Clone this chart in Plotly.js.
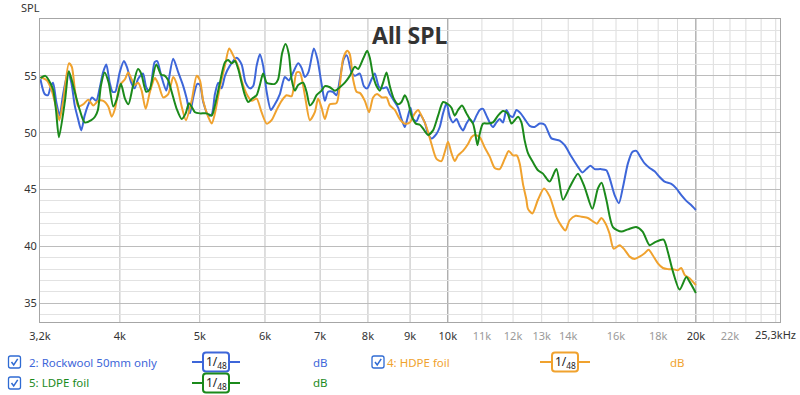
<!DOCTYPE html>
<html><head><meta charset="utf-8">
<script src="https://cdn.plot.ly/plotly-3.0.1.min.js"></script>
<style>html,body{margin:0;padding:0;background:#fff}#chart{width:800px;height:395px}</style>
</head><body><div id="chart"></div>
<script>
// ---------- data ----------
const seriesNames = ['2: Rockwool 50mm only', '4: HDPE foil', '5: LDPE foil'];
const seriesColors = ['#3d66d9', '#f0a22e', '#1b8a1b'];
const smoothingLabel = '1/<sub>48</sub>';
const unitLabel = 'dB';

const rockwoolFreq = [3204,3242,3272,3298,3319,3349,3381,3412,3460,3493,3526,3559,3591,3625,3659,3701,3744,3780,3816,3851,3888,3918,3949,3998,4046,4083,4129,4168,4207,4267,4305,4347,4408,4440,4490,4553,4579,4643,4709,4775,4821,4865,4910,4966,5003,5049,5120,5170,5217,5265,5315,5365,5440,5543,5621,5684,5753,5806,5862,5915,5969,6028,6100,6168,6255,6343,6414,6491,6583,6646,6707,6773,6878,6945,7028,7093,7158,7252,7328,7396,7479,7542,7642,7712,7821,7909,7982,8081,8155,8253,8339,8426,8504,8624,8703,8787,8868,8950,9010,9075,9163,9247,9377,9463,9555,9689,9778,9868,9964,10055,10148,10245,10339,10434,10535,10632,10730,10834,10933,11034,11140,11243,11346,11456,11561,11667,11780,11889,11998,12114,12259,12397,12571,12748,12927,13109,13357,13670,13862,14124,14386,14565,14728,14894,15073,15328,15574,15718,15939,16130,16312,16541,16747,16936,17115,17332,17575,17822,18073,18327,18674,18936,19203,19473,19691,20000];
const rockwoolSPL = [54.7,53.4,53.3,54.1,54.4,52.7,51.5,53.3,55.3,54.4,52.4,51.2,50.2,51.5,52.4,53.1,52.8,53.9,55.3,56.0,54.4,53.6,53.6,55.3,56.3,55.7,54.4,53.9,54.7,55.2,54.0,53.6,56.2,56.3,55.0,53.7,54.4,56.5,55.3,54.1,53.0,51.7,53.1,54.3,54.2,52.7,51.5,51.6,53.4,54.4,53.9,55.0,55.9,56.6,56.0,54.4,53.9,54.1,55.9,56.9,55.9,53.6,52.0,52.5,53.4,54.9,54.6,55.3,56.1,55.7,54.9,55.3,57.4,56.5,54.3,52.8,53.6,53.6,53.3,54.7,56.5,56.8,55.3,55.0,55.2,54.1,53.9,54.7,55.2,54.0,53.9,54.0,53.4,52.7,52.2,51.2,50.5,51.5,52.2,51.2,51.0,51.6,50.9,49.9,49.5,49.9,50.5,51.7,52.6,51.4,50.9,51.2,50.6,50.2,50.8,51.2,50.9,51.5,52.0,52.1,51.5,50.9,50.5,50.9,51.2,50.9,52.0,51.5,51.4,52.0,51.7,51.2,50.6,50.5,50.8,50.7,49.5,49.3,48.9,47.9,47.0,46.5,46.8,47.1,46.8,46.8,46.7,46.0,44.5,43.8,45.2,47.3,48.3,48.4,47.9,47.3,46.9,46.6,46.1,45.7,45.5,45.1,44.5,44.0,43.7,43.2];

const hdpeFreq = [3204,3261,3307,3353,3377,3415,3469,3497,3529,3561,3611,3662,3714,3765,3819,3872,3910,3946,4001,4057,4094,4134,4172,4210,4251,4299,4351,4412,4453,4515,4579,4643,4688,4754,4811,4888,4958,5003,5049,5120,5170,5217,5290,5365,5429,5490,5568,5621,5700,5781,5862,5943,6028,6112,6198,6285,6373,6463,6554,6614,6707,6802,6897,6960,7028,7093,7192,7328,7396,7464,7548,7605,7675,7749,7821,7931,8026,8116,8207,8316,8426,8504,8624,8745,8868,8992,9119,9203,9291,9422,9555,9689,9825,9916,10007,10103,10196,10290,10434,10581,10683,10782,10933,11087,11243,11401,11561,11724,11855,11998,12124,12225,12337,12457,12511,12667,12865,13082,13293,13545,13736,13890,14057,14295,14536,14793,15001,15169,15358,15543,15718,15894,16163,16390,16621,16855,17091,17332,17526,17737,17986,18239,18496,18756,19019,19203,19380,19652,20000];
const hdpeSPL = [54.9,54.6,53.7,52.0,51.1,52.8,56.1,55.8,53.7,52.3,52.5,52.9,52.4,52.8,52.8,52.3,51.4,52.1,54.2,54.7,55.3,54.7,54.2,54.4,53.7,52.1,53.6,54.8,54.3,53.1,53.4,54.9,54.3,52.3,51.1,52.8,55.0,54.6,52.8,51.4,50.8,51.7,54.0,55.9,57.4,56.8,55.8,54.6,53.4,52.8,53.0,51.8,50.8,51.1,52.0,52.8,53.3,53.2,55.3,55.3,53.3,51.1,51.8,53.0,52.2,51.2,52.5,52.6,54.2,56.5,57.2,56.9,54.7,53.6,53.5,52.8,51.8,53.1,53.4,53.1,53.1,52.4,52.0,51.2,50.8,50.9,51.7,52.0,51.5,50.5,49.0,47.7,47.5,48.3,49.2,48.2,47.5,48.0,48.4,49.0,49.6,49.8,49.6,48.7,47.9,46.9,46.8,47.7,48.4,48.0,48.0,47.3,45.5,44.1,43.3,42.9,44.1,45.1,44.4,42.6,41.8,41.4,42.3,42.7,42.6,42.5,42.2,42.0,42.5,42.0,41.1,39.8,40.1,39.7,39.1,38.9,39.1,39.4,39.7,39.2,38.5,38.1,38.0,38.0,37.9,38.1,37.5,37.2,36.6];

const ldpeFreq = [3204,3248,3281,3319,3346,3374,3431,3469,3526,3576,3625,3693,3731,3762,3795,3834,3877,3927,3968,4012,4057,4097,4149,4207,4246,4305,4347,4428,4490,4537,4579,4623,4688,4754,4808,4852,4896,4934,5003,5097,5170,5217,5290,5365,5414,5466,5517,5568,5621,5673,5725,5790,5862,5915,5969,6028,6083,6168,6225,6295,6356,6414,6463,6523,6583,6675,6739,6802,6865,6930,7028,7093,7192,7293,7396,7500,7605,7712,7783,7893,7982,8042,8116,8194,8270,8346,8426,8504,8599,8703,8787,8868,8950,9035,9145,9247,9325,9463,9596,9732,9868,10007,10103,10196,10290,10405,10535,10632,10730,10782,10864,10933,11034,11189,11346,11506,11667,11813,11946,12056,12167,12284,12397,12511,12687,12865,13046,13293,13545,13796,14057,14386,14658,14977,15212,15371,15574,15863,16241,16541,16926,17235,17575,17872,18275,18496,18756,19111,19473,19652,20000];
const ldpeSPL = [54.8,55.0,54.6,53.8,52.0,49.6,52.8,55.4,53.6,52.0,50.9,51.1,51.4,52.0,54.2,55.3,54.4,52.3,53.0,54.3,53.0,52.5,54.1,55.6,55.2,53.6,53.8,56.0,55.1,55.0,54.6,53.6,52.1,51.2,51.7,52.6,52.2,51.8,51.7,51.7,51.5,52.4,54.4,56.2,56.4,56.1,56.3,55.6,54.4,53.3,52.7,53.0,53.3,54.2,55.2,54.4,54.3,54.3,54.7,57.0,57.8,56.9,54.7,53.7,54.2,54.4,53.6,52.4,52.7,53.3,53.7,54.1,54.0,53.7,54.0,54.4,55.0,55.8,55.6,56.5,57.2,56.6,55.0,54.1,53.7,54.4,55.3,54.1,53.0,52.5,52.7,53.3,52.7,51.5,50.8,50.7,50.4,49.8,50.2,51.5,52.7,52.5,52.2,51.5,52.0,52.4,51.7,51.2,50.8,50.2,48.9,49.9,50.8,50.8,50.9,51.5,51.9,51.7,50.8,51.1,51.4,50.9,49.3,48.2,47.4,46.7,46.4,45.7,46.8,44.1,45.2,46.4,45.2,43.3,45.1,45.6,44.1,41.7,41.3,41.5,41.7,41.3,40.1,40.4,40.6,39.5,37.8,36.2,37.3,36.9,35.9];

const tickVals = [3200,4000,5000,6000,7000,8000,9000,10000,11000,12000,13000,14000,16000,18000,20000,22000,25300];
const tickText = ['3,2k','4k','5k','6k','7k','8k','9k','10k','11k','12k','13k','14k','16k','18k','20k','22k','25,3kHz'];
const tickDim  = [0,0,0,0,0,0,0,0,1,1,1,1,1,1,0,1,0];
const gridMid  = [4000,5000,6000,7000,8000,9000];
const gridDark = [10000,20000];
const gridLight = [11000,12000,13000,14000,15000,16000,17000,18000,19000,21000,22000,23000,24000,25000];
const yTicks = [35,40,45,50,55];

// ---------- layout helpers (pixel -> paper) ----------
const L = 40, R = 780, T = 19, B = 322;
const px = x => (x - L) / (R - L);
const py = y => (B - y) / (B - T);
const FONT = 'Noto Sans, Open Sans, DejaVu Sans, sans-serif';

const freqs = [rockwoolFreq, hdpeFreq, ldpeFreq];
const spls = [rockwoolSPL, hdpeSPL, ldpeSPL];
const traces = freqs.map((f, i) => ({
  type: 'scatter', mode: 'lines', x: f, y: spls[i], name: seriesNames[i],
  line: {color: seriesColors[i], width: 2, shape: 'spline', smoothing: 0.7},
  hoverinfo: 'skip'
}));

const shapes = [];
function vline(f, color) {
  shapes.push({type: 'line', xref: 'x', yref: 'paper', x0: f, x1: f, y0: 0, y1: 1,
    line: {color: color, width: 1}, layer: 'below'});
}
gridLight.forEach(f => vline(f, '#dcdcdc'));
gridMid.forEach(f => vline(f, '#bdbdbd'));
gridDark.forEach(f => vline(f, '#8e8e8e'));

const annotations = [];
annotations.push({xref: 'paper', yref: 'paper', x: px(410), y: py(35), xanchor: 'center', yanchor: 'middle',
  text: '<b>All SPL</b>', showarrow: false, font: {family: FONT, size: 23, color: '#333333'}});
annotations.push({xref: 'paper', yref: 'paper', x: px(19), y: py(8), xanchor: 'left', yanchor: 'middle',
  text: 'SPL', showarrow: false, font: {family: FONT, size: 11, color: '#333333'}});
// last tick label (with unit) is right-aligned at the chart edge, as in the original
const lastIdx = tickText.length - 1;
annotations.push({xref: 'paper', yref: 'paper', x: px(798), y: py(334), xanchor: 'right', yanchor: 'middle',
  text: tickText[lastIdx], showarrow: false, font: {family: FONT, size: 11, color: '#333333'}});

// legend: [checkbox center x, name x, symbol left, symbol right, unit center x, row y]
const legendPos = [[14.5, 27, 192, 240, 320, 362], [378, 385, 540, 590, 677, 362], [14.5, 27, 192, 240, 320, 383]];
legendPos.forEach((p, i) => {
  const [cx, nx, s0, s1, ux, ry] = p;
  const col = seriesColors[i];
  const h = 6;
  shapes.push({type: 'path', xref: 'paper', yref: 'paper',
    path: `M ${px(cx-h+2)},${py(ry-h)} L ${px(cx+h-2)},${py(ry-h)} Q ${px(cx+h)},${py(ry-h)} ${px(cx+h)},${py(ry-h+2)} L ${px(cx+h)},${py(ry+h-2)} Q ${px(cx+h)},${py(ry+h)} ${px(cx+h-2)},${py(ry+h)} L ${px(cx-h+2)},${py(ry+h)} Q ${px(cx-h)},${py(ry+h)} ${px(cx-h)},${py(ry+h-2)} L ${px(cx-h)},${py(ry-h+2)} Q ${px(cx-h)},${py(ry-h)} ${px(cx-h+2)},${py(ry-h)} Z`,
    line: {color: '#2f6bd3', width: 1.3}, fillcolor: '#ffffff'});
  shapes.push({type: 'path', xref: 'paper', yref: 'paper',
    path: `M ${px(cx-3)},${py(ry)} L ${px(cx-0.8)},${py(ry+3)} L ${px(cx+3.2)},${py(ry-3.2)}`,
    line: {color: '#2f6bd3', width: 1.5}});
  shapes.push({type: 'line', xref: 'paper', yref: 'paper', x0: px(s0), x1: px(s1), y0: py(ry), y1: py(ry),
    line: {color: col, width: 2}});
  const bc = (s0 + s1) / 2, bw = 13, bh = 9.5;
  shapes.push({type: 'path', xref: 'paper', yref: 'paper',
    path: `M ${px(bc-bw+3)},${py(ry-bh)} L ${px(bc+bw-3)},${py(ry-bh)} Q ${px(bc+bw)},${py(ry-bh)} ${px(bc+bw)},${py(ry-bh+3)} L ${px(bc+bw)},${py(ry+bh-3)} Q ${px(bc+bw)},${py(ry+bh)} ${px(bc+bw-3)},${py(ry+bh)} L ${px(bc-bw+3)},${py(ry+bh)} Q ${px(bc-bw)},${py(ry+bh)} ${px(bc-bw)},${py(ry+bh-3)} L ${px(bc-bw)},${py(ry-bh+3)} Q ${px(bc-bw)},${py(ry-bh)} ${px(bc-bw+3)},${py(ry-bh)} Z`,
    line: {color: col, width: 2}, fillcolor: '#ffffff'});
  annotations.push({xref: 'paper', yref: 'paper', x: px(bc), y: py(ry), xanchor: 'center', yanchor: 'middle',
    text: smoothingLabel, showarrow: false, font: {family: FONT, size: 12, color: '#222222'}});
  annotations.push({xref: 'paper', yref: 'paper', x: px(nx), y: py(ry), xanchor: 'left', yanchor: 'middle',
    text: seriesNames[i], showarrow: false, font: {family: FONT, size: 11.5, color: col}});
  annotations.push({xref: 'paper', yref: 'paper', x: px(ux), y: py(ry), xanchor: 'center', yanchor: 'middle',
    text: unitLabel, showarrow: false, font: {family: FONT, size: 11.5, color: col}});
});

const layout = {
  width: 800, height: 395,
  margin: {l: L, r: 800 - R, t: T, b: 395 - B},
  paper_bgcolor: '#ffffff', plot_bgcolor: '#ffffff',
  showlegend: false,
  xaxis: {
    type: 'log', range: [Math.log10(3200), Math.log10(25300)],
    tickmode: 'array', tickvals: tickVals.slice(0, lastIdx),
    ticktext: tickText.slice(0, lastIdx).map((t, i) => tickDim[i] ? `<span style="color:#9a9a9a">${t}</span>` : t),
    showgrid: false, zeroline: false, showline: true, mirror: true, linecolor: '#a6a6a6', linewidth: 1,
    ticks: '', ticklabelstandoff: 4, tickfont: {family: FONT, size: 11, color: '#333333'}, automargin: false
  },
  yaxis: {
    range: [33.35, 60], tickmode: 'array', tickvals: yTicks,
    showgrid: true, gridcolor: '#bcbcbc', gridwidth: 1,
    minor: {tickmode: 'linear', tick0: 0, dtick: 1, showgrid: true, gridcolor: '#e2e2e2', gridwidth: 1, ticks: ''},
    zeroline: false, showline: true, mirror: true, linecolor: '#a6a6a6', linewidth: 1,
    ticks: '', tickfont: {family: FONT, size: 11, color: '#333333'}, automargin: false
  },
  shapes: shapes,
  annotations: annotations
};

Plotly.newPlot('chart', traces, layout, {staticPlot: true, displayModeBar: false});
</script>
</body></html>
